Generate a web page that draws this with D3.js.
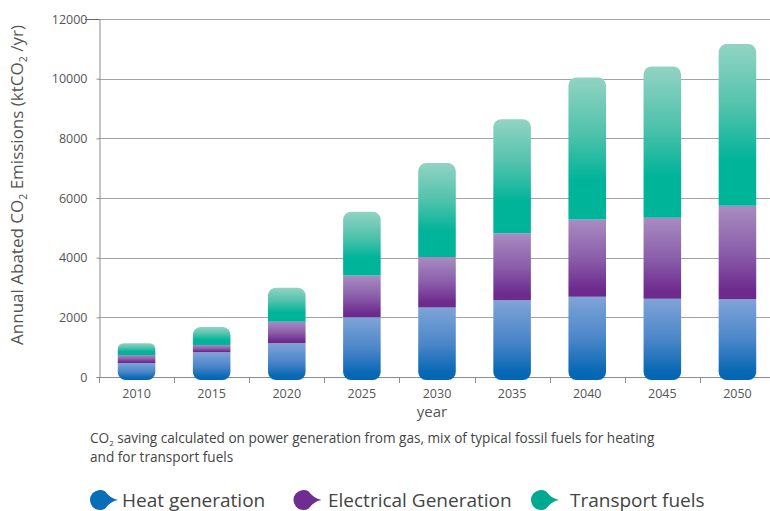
<!DOCTYPE html>
<html>
<head>
<meta charset="utf-8">
<script src="https://cdn.jsdelivr.net/npm/d3@7"></script>
<style>
  html, body { margin: 0; padding: 0; background: #ffffff; }
  svg { display: block; font-family: "Open Sans", "Noto Sans", sans-serif; }
</style>
</head>
<body>
<svg id="chart" width="770" height="511"></svg>
<script>
// Abated CO2 emissions by sector, ktCO2 per year
const years = ["2010", "2015", "2020", "2025", "2030", "2035", "2040", "2045", "2050"];
const heatGeneration = [470, 830, 1130, 2000, 2330, 2570, 2690, 2620, 2610];
const electricalGeneration = [270, 245, 720, 1400, 1690, 2250, 2590, 2720, 3130];
const transportFuels = [395, 605, 1145, 2140, 3150, 3820, 4760, 5070, 5420];
const yTicks = [0, 2000, 4000, 6000, 8000, 10000, 12000];
const seriesNames = ["Heat generation", "Electrical Generation", "Transport fuels"];

const rows = years.map((yr, i) => ({
  year: yr,
  heat: heatGeneration[i],
  elec: electricalGeneration[i],
  trans: transportFuels[i]
}));
const keys = ["heat", "elec", "trans"];

const svg = d3.select("#chart");
const plotLeft = 99, plotRight = 775, plotTop = 19, plotBottom = 377;

const x = d3.scaleBand().domain(years).range([plotLeft, plotRight]).paddingInner(0.5).paddingOuter(0.25);
const y = d3.scaleLinear().domain([0, 12000]).range([plotBottom, plotTop]);

// gradients, light at the top of each segment and deep at the bottom
const defs = svg.append("defs");
const grads = {
  heat: [[0, "#7fa4d7"], [0.5, "#4b86c9"], [0.88, "#0a69b5"], [1, "#0067b3"]],
  elec: [[0, "#a98cc1"], [0.5, "#8a5eaa"], [0.9, "#6e2b8e"], [1, "#6c2a8c"]],
  trans: [[0, "#92d3c3"], [0.4, "#4fc2ab"], [0.72, "#00b499"], [1, "#00b499"]]
};
Object.entries(grads).forEach(([k, stops]) => {
  const g = defs.append("linearGradient").attr("id", "g-" + k)
    .attr("x1", 0).attr("y1", 0).attr("x2", 0).attr("y2", 1);
  stops.forEach(([o, c]) => g.append("stop").attr("offset", o).attr("stop-color", c));
});

// gridlines
svg.append("g").selectAll("line").data(yTicks.filter(t => t > 0)).join("line")
  .attr("x1", plotLeft).attr("x2", 770)
  .attr("y1", d => Math.round(y(d)) + 0.5).attr("y2", d => Math.round(y(d)) + 0.5)
  .attr("stroke", "#a3a3a3").attr("stroke-width", 1);

// y axis
const yAxis = svg.append("g").attr("transform", `translate(${plotLeft + 0.5},0)`)
  .call(d3.axisLeft(y).tickValues(yTicks).tickSize(3).tickPadding(9).tickFormat(d3.format("d")));
yAxis.select(".domain").attr("stroke", "#8c8c8c");
yAxis.selectAll(".tick line").attr("stroke", "#8c8c8c");
yAxis.selectAll(".tick text").attr("fill", "#555").style("font-size", "12.5px")
  .style("font-family", "'Open Sans', sans-serif");
svg.append("line").attr("x1", 85).attr("x2", plotLeft).attr("y1", Math.round(y(12000)) + 0.5)
  .attr("y2", Math.round(y(12000)) + 0.5).attr("stroke", "#666");

// x axis baseline and ticks between the categories
svg.append("line").attr("x1", plotLeft).attr("x2", 770)
  .attr("y1", plotBottom + 0.5).attr("y2", plotBottom + 0.5).attr("stroke", "#8c8c8c");
svg.append("g").selectAll("line").data(d3.range(years.length + 1)).join("line")
  .attr("x1", i => Math.round(plotLeft + i * x.step()) + 0.5)
  .attr("x2", i => Math.round(plotLeft + i * x.step()) + 0.5)
  .attr("y1", plotBottom).attr("y2", plotBottom + 6)
  .attr("stroke", "#8c8c8c");
svg.append("g").selectAll("text").data(years).join("text")
  .attr("x", d => x(d) + x.bandwidth() / 2).attr("y", 398)
  .attr("text-anchor", "middle").attr("fill", "#555").style("font-size", "12.5px")
  .text(d => d);
svg.append("text").attr("x", 432).attr("y", 417).attr("text-anchor", "middle")
  .attr("fill", "#555").style("font-size", "15px").text("year");

// stacked bars with rounded bottom and top ends
const stacked = d3.stack().keys(keys)(rows);
const r = 8;
function segPath(x0, w, yTop, yBot, roundTop, roundBot) {
  const p = d3.path();
  const rt = roundTop ? Math.min(r, (yBot - yTop) / 2) : 0;
  const rb = roundBot ? Math.min(r, (yBot - yTop) / 2) : 0;
  p.moveTo(x0 + rt, yTop);
  p.lineTo(x0 + w - rt, yTop);
  if (rt) p.arcTo(x0 + w, yTop, x0 + w, yTop + rt, rt);
  p.lineTo(x0 + w, yBot - rb);
  if (rb) p.arcTo(x0 + w, yBot, x0 + w - rb, yBot, rb);
  p.lineTo(x0 + rb, yBot);
  if (rb) p.arcTo(x0, yBot, x0, yBot - rb, rb);
  p.lineTo(x0, yTop + rt);
  if (rt) p.arcTo(x0, yTop, x0 + rt, yTop, rt);
  p.closePath();
  return p.toString();
}
stacked.forEach((layer, li) => {
  svg.append("g").selectAll("path").data(layer).join("path")
    .attr("d", d => {
      const isBottom = li === 0, isTop = li === keys.length - 1;
      const yb = isBottom ? y(d[0]) + 3 : y(d[0]);
      return segPath(x(d.data.year), x.bandwidth(), y(d[1]), yb, isTop, isBottom);
    })
    .attr("fill", `url(#g-${layer.key})`);
});

// y axis title
const yTitle = svg.append("text").attr("transform", "translate(23,185) rotate(-90)")
  .attr("text-anchor", "middle").attr("fill", "#555").style("font-size", "17px");
yTitle.append("tspan").text("Annual Abated CO");
yTitle.append("tspan").attr("dy", 4).style("font-size", "10.5px").text("2");
yTitle.append("tspan").attr("dy", -4).text(" Emissions (ktCO");
yTitle.append("tspan").attr("dy", 4).style("font-size", "10.5px").text("2");
yTitle.append("tspan").attr("dy", -4).text(" /yr)");

// footnote
const note = svg.append("text").attr("x", 90).attr("y", 443).attr("fill", "#444")
  .style("font-size", "13.6px");
note.append("tspan").text("CO");
note.append("tspan").attr("dy", 2.5).style("font-size", "8px").text("2");
note.append("tspan").attr("dy", -2.5).text(" saving calculated on power generation from gas, mix of typical fossil fuels for heating");
svg.append("text").attr("x", 90).attr("y", 462).attr("fill", "#444")
  .style("font-size", "13.6px").text("and for transport fuels");

// legend with drop-shaped markers
const legendColors = ["#0a6db7", "#6f2c91", "#00a991"];
const legendX = [100, 303.5, 541];
const legendTextX = [122, 328, 570];
function dropPath(cx, cy) {
  const rr = 10, tip = 18;
  const px = cx + rr * 0.5, py = rr * 0.866;
  return `M${cx + tip},${cy} Q${cx + 10},${cy - 1.5} ${px},${cy - py} ` +
    `A${rr},${rr} 0 1 0 ${px},${cy + py} Q${cx + 10},${cy + 1.5} ${cx + tip},${cy} Z`;
}
const legend = svg.append("g");
seriesNames.forEach((name, i) => {
  legend.append("path").attr("d", dropPath(legendX[i], 500)).attr("fill", legendColors[i]);
  legend.append("text").attr("x", legendTextX[i]).attr("y", 506.5).attr("fill", "#444")
    .style("font-size", "19px").text(name);
});
</script>
</body>
</html>
